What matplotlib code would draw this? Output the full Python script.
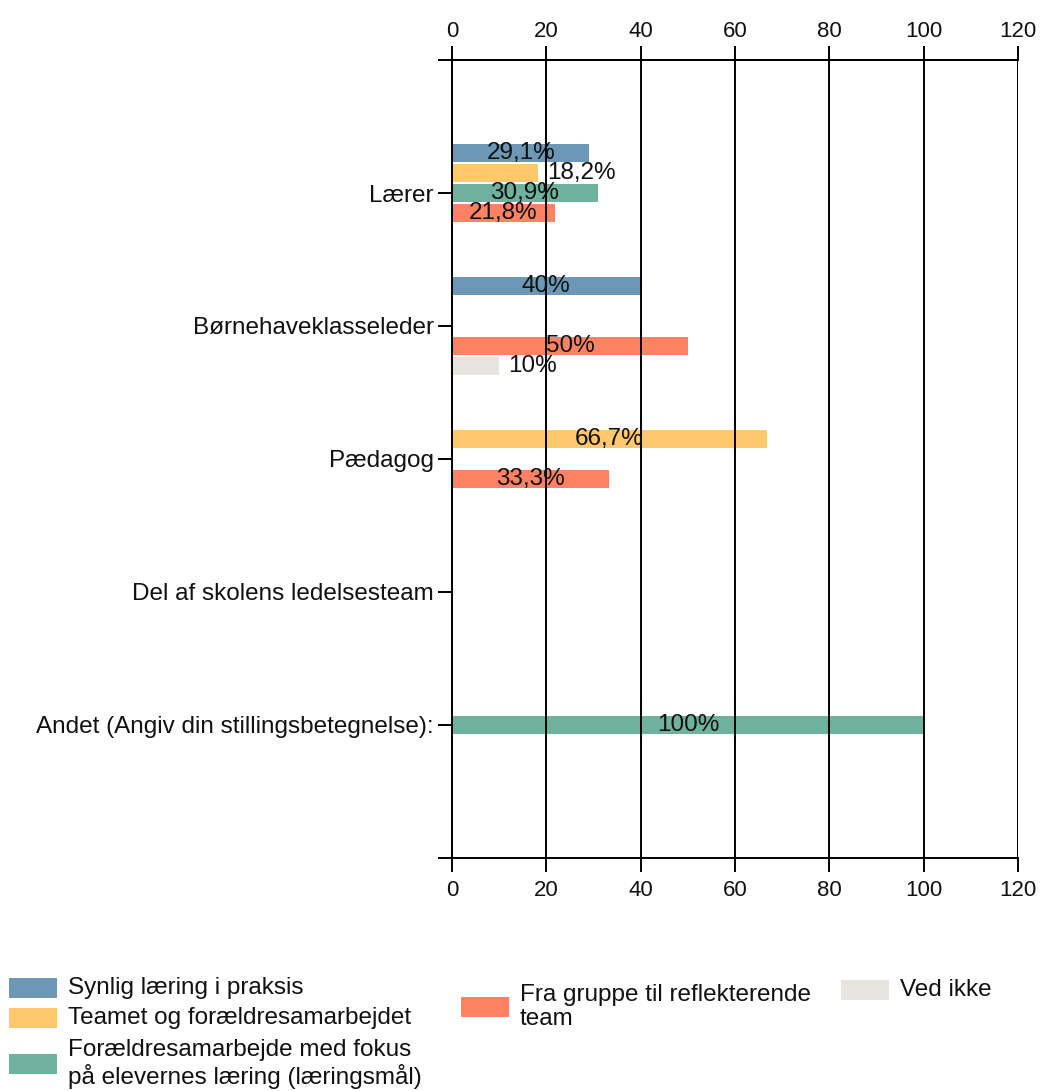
import matplotlib
matplotlib.use("Agg")
import matplotlib.pyplot as plt
from matplotlib.patches import Rectangle

plt.rcParams['font.family'] = ['Liberation Sans', 'DejaVu Sans']

# Data
categories = ["Lærer", "Børnehaveklasseleder", "Pædagog",
              "Del af skolens ledelsesteam",
              "Andet (Angiv din stillingsbetegnelse):"]
series_names = ["Synlig læring i praksis",
                "Teamet og forældresamarbejdet",
                "Forældresamarbejde med fokus\npå elevernes læring (læringsmål)",
                "Fra gruppe til reflekterende\nteam",
                "Ved ikke"]
synlig = [29.1, 40, None, None, None]
teamet = [18.2, None, 66.7, None, None]
foraeldre = [30.9, None, None, None, 100]
fra_gruppe = [21.8, 50, 33.3, None, None]
ved_ikke = [None, 10, None, None, None]
all_series = [synlig, teamet, foraeldre, fra_gruppe, ved_ikke]
colors = ["#6c98b6", "#ffc86e", "#6eb29e", "#ff8264", "#e6e4dc"]
x_ticks = [0, 20, 40, 60, 80, 100, 120]

W, H = 1043, 1091
fig = plt.figure(figsize=(W / 100, H / 100), dpi=100)
ax = fig.add_axes([452 / W, 1 - 858 / H, 566 / W, 798 / H])

fs = 17.5      # category labels, bar labels, legend
fs_num = 16    # axis numbers
txt_col = "#111111"
step = 0.15
bar_h = 0.135

for i, vals in enumerate(all_series):
    for j, v in enumerate(vals):
        if v is None:
            continue
        y = j + 1 + (i - 2) * step
        ax.barh(y, v, height=bar_h, color=colors[i], zorder=1)
        lab = f"{v:g}".replace(".", ",") + "%"
        # short bars get their label just outside the bar
        if v >= 20:
            ax.text(v / 2, y, lab, ha="center", va="center", fontsize=fs,
                    color=txt_col, zorder=4)
        else:
            ax.text(v + 2.0, y, lab, ha="left", va="center", fontsize=fs,
                    color=txt_col, zorder=4)

ax.set_xlim(0, 120)
ax.set_ylim(6, 0)
ax.set_xticks(x_ticks)
ax.set_yticks(range(7))
ax.set_yticklabels([""] + categories + [""])
ax.set_axisbelow(False)
ax.grid(axis="x", color="black", linewidth=1.4, zorder=2)

for s in ["top", "bottom", "left"]:
    ax.spines[s].set_linewidth(1.4)
    ax.spines[s].set_color("black")
ax.spines["right"].set_visible(False)

ax.tick_params(axis="x", direction="out", length=10, width=1.4, pad=6,
               labelsize=fs_num, labelcolor=txt_col)
ax.tick_params(axis="y", direction="out", length=10, width=1.4, pad=3,
               labelsize=fs, labelcolor=txt_col)

# same scale repeated on top
top = ax.secondary_xaxis("top")
top.set_xticks(x_ticks)
top.spines["top"].set_linewidth(1.4)
top.tick_params(direction="out", length=10, width=1.4, pad=3,
                labelsize=fs_num, labelcolor=txt_col)

# Legend drawn by hand to match the column layout
leg_pos = [(9, 988), (9, 1018), (9, 1064), (461, 1007), (841, 990)]
for (px, py), name, c in zip(leg_pos, series_names, colors):
    fig.add_artist(Rectangle((px / W, 1 - (py + 10) / H), 48 / W, 20 / H,
                             transform=fig.transFigure, facecolor=c,
                             edgecolor="none"))
    fig.text((px + 59) / W, 1 - py / H, name, ha="left", va="center",
             fontsize=fs, color=txt_col, linespacing=1.15)

fig.savefig("out.png", dpi=100, facecolor="white")
